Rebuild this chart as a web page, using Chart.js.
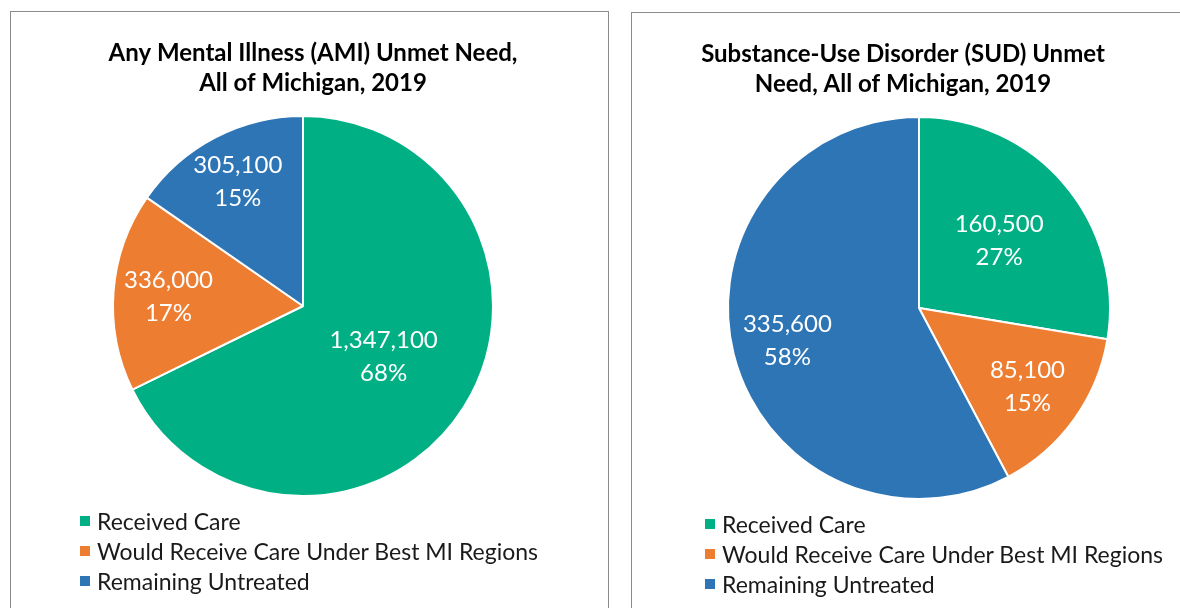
<!DOCTYPE html>
<html>
<head>
<meta charset="utf-8">
<script src="https://cdn.jsdelivr.net/npm/chart.js@4.4.1/dist/chart.umd.min.js"></script>
<style>
  body { margin: 0; width: 1180px; height: 608px; overflow: hidden; background: #fff; position: relative; font-family: Lato, sans-serif; }
  .panel { position: absolute; border: 1px solid #8c8c8c; height: 640px; }
  #p1 { left: 10px; top: 11px; width: 597px; }
  #p2 { left: 631px; top: 12px; width: 600px; }
  .panel canvas { position: absolute; left: 0; top: 0; }
  .legend { position: absolute; font-size: 23px; color: #1a1a1a; }
  .legend div { height: 30px; display: flex; align-items: center; white-space: nowrap; }
  .legend span { width: 10px; height: 10px; margin-right: 7px; flex: none; }
  #leg1 { left: 80px; top: 506px; }
  #leg2 { left: 705px; top: 509px; }
</style>
</head>
<body>
<div class="panel" id="p1"><canvas id="ami" width="595" height="596"></canvas></div>
<div class="panel" id="p2"><canvas id="sud" width="548" height="595"></canvas></div>
<div class="legend" id="leg1"></div>
<div class="legend" id="leg2"></div>
<script>
const categories = ['Received Care', 'Would Receive Care Under Best MI Regions', 'Remaining Untreated'];
const amiValues = [1347100, 336000, 305100];
const amiPercents = [68, 17, 15];
const sudValues = [160500, 85100, 335600];
const sudPercents = [27, 15, 58];
const amiTitle = ['Any Mental Illness (AMI) Unmet Need,', 'All of Michigan, 2019'];
const sudTitle = ['Substance-Use Disorder (SUD) Unmet', 'Need, All of Michigan, 2019'];
const sliceColors = ['#00B084', '#ED7D31', '#2E75B6'];

Chart.defaults.font.family = 'Lato';

// value + percent written inside each slice
const sliceLabels = {
    id: 'sliceLabels',
    afterLayout(chart, args, opts) {
        // title in the original is not exactly centred over the pie
        const t = chart.titleBlock;
        if (t && opts.titleShift) {
            t.left += opts.titleShift;
            t.right += opts.titleShift;
        }
    },
    afterDatasetsDraw(chart, args, opts) {
        const ctx = chart.ctx;
        const meta = chart.getDatasetMeta(0);
        const values = chart.data.datasets[0].data;
        ctx.save();
        ctx.fillStyle = '#fff';
        ctx.font = '24px Lato';
        ctx.textAlign = 'center';
        ctx.textBaseline = 'middle';
        meta.data.forEach((arc, i) => {
            const p = arc.getProps(['x', 'y', 'startAngle', 'endAngle', 'outerRadius'], true);
            const mid = (p.startAngle + p.endAngle) / 2;
            const r = p.outerRadius * opts.radius[i];
            const cx = p.x + Math.cos(mid) * r;
            const cy = p.y + Math.sin(mid) * r;
            ctx.fillText(values[i].toLocaleString('en-US'), cx, cy - 16);
            ctx.fillText(opts.percents[i] + '%', cx, cy + 17);
        });
        ctx.restore();
    }
};

function buildLegend(chart, id) {
    const items = Chart.overrides.pie.plugins.legend.labels.generateLabels(chart);
    const box = document.getElementById(id);
    items.forEach(item => {
        const row = document.createElement('div');
        const sw = document.createElement('span');
        sw.style.background = item.fillStyle;
        row.appendChild(sw);
        row.appendChild(document.createTextNode(item.text));
        box.appendChild(row);
    });
}

function makePie(canvasId, values, percents, title, padding, labelRadius, titleShift) {
    return new Chart(document.getElementById(canvasId), {
        type: 'pie',
        data: {
            labels: categories,
            datasets: [{
                data: values,
                backgroundColor: sliceColors,
                borderColor: '#fff',
                borderWidth: 2
            }]
        },
        options: {
            responsive: false,
            animation: false,
            layout: { padding: padding },
            plugins: {
                legend: { display: false },
                tooltip: { enabled: false },
                title: {
                    display: true,
                    text: title,
                    color: '#000',
                    font: { size: 24, weight: 'bold', lineHeight: 1.25 },
                    padding: { top: 26, bottom: 17 }
                },
                sliceLabels: { percents: percents, radius: labelRadius, titleShift: titleShift }
            }
        },
        plugins: [sliceLabels]
    });
}

const amiChart = makePie('ami', amiValues, amiPercents, amiTitle,
    { left: 0, right: 11, top: 0, bottom: 111 }, [0.50, 0.71, 0.74], 10);
const sudChart = makePie('sud', sudValues, sudPercents, sudTitle,
    { left: 26, right: 0, top: 0, bottom: 108 }, [0.55, 0.70, 0.71], -16);

buildLegend(amiChart, 'leg1');
buildLegend(sudChart, 'leg2');
</script>
</body>
</html>
